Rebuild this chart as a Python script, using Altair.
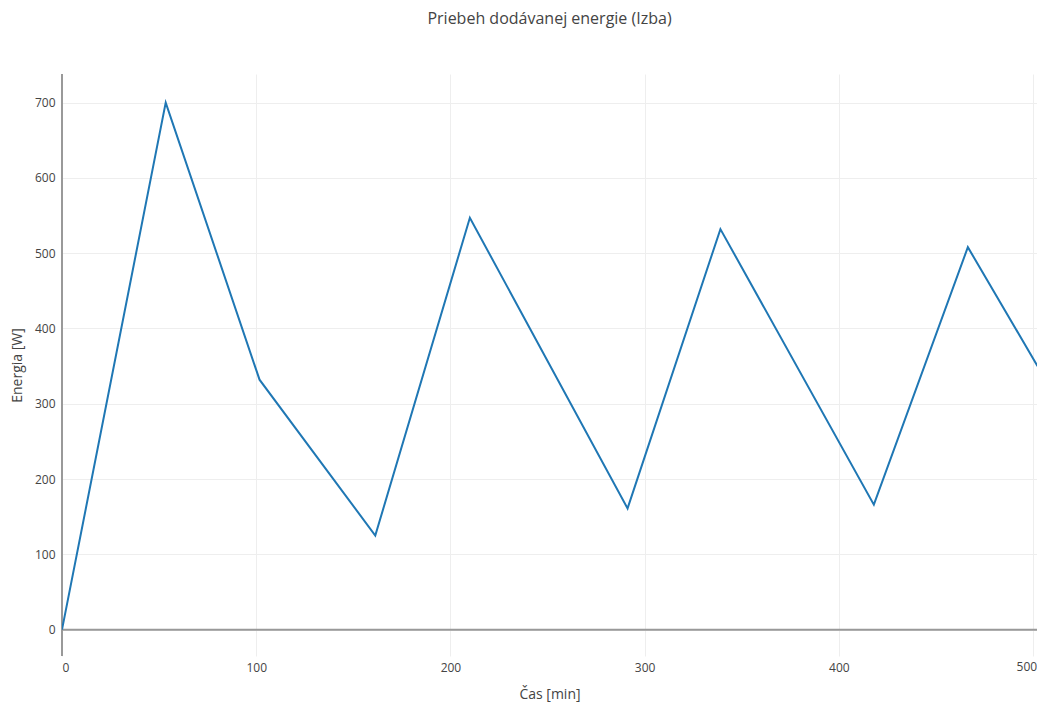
import altair as alt
import pandas as pd

cas = [0, 53.4, 101.7, 161.3, 210, 291.2, 339, 418, 466.4, 502.3]
energia = [0, 700, 332, 125, 547, 161, 532, 166, 508, 350]
x_ticks = [0, 100, 200, 300, 400, 500]
y_ticks = [0, 100, 200, 300, 400, 500, 600, 700]

df = pd.DataFrame({"cas": cas, "energia": energia})

FONT = "Open Sans"
TXT = "#444444"
H = 582

xscale = alt.Scale(domain=[0, 502], nice=False, zero=False)
yscale = alt.Scale(domain=[-35, 738], nice=False, zero=False)

line = alt.Chart(df).mark_line(color="#1f77b4", strokeWidth=2, clip=True).encode(
    x=alt.X("cas:Q", scale=xscale, title="Čas [min]",
            axis=alt.Axis(values=x_ticks, domain=False, ticks=False,
                          gridColor="#eeeeee", labelPadding=6, titlePadding=14,
                          labelExpr="datum.value >= 500 ? '' : datum.label",
                          labelFont=FONT, labelFontSize=12, labelColor=TXT,
                          titleFont=FONT, titleFontSize=14, titleColor=TXT, titleFontWeight="normal")),
    y=alt.Y("energia:Q", scale=yscale, title="Energia [W]",
            axis=alt.Axis(values=y_ticks, domain=False, ticks=False,
                          gridColor="#eeeeee", labelPadding=7, titlePadding=10,
                          labelFont=FONT, labelFontSize=12, labelColor=TXT,
                          titleFont=FONT, titleFontSize=14, titleColor=TXT, titleFontWeight="normal")),
)

last_lbl = alt.Chart(pd.DataFrame({"v": [x_ticks[-1]], "t": [str(x_ticks[-1])]})).mark_text(
    align="right", baseline="top", dx=4, font=FONT, fontSize=12, color=TXT, clip=False
).encode(x=alt.X("v:Q", scale=xscale), y=alt.value(H + 6), text="t:N")

zx = alt.Chart(pd.DataFrame({"v": [0]})).mark_rule(color="#999999", strokeWidth=2).encode(
    x=alt.X("v:Q", scale=xscale))
zy = alt.Chart(pd.DataFrame({"v": [0]})).mark_rule(color="#999999", strokeWidth=2).encode(
    y=alt.Y("v:Q", scale=yscale))

chart = alt.layer(zy, zx, line, last_lbl).properties(
    width=975, height=H,
    autosize=alt.AutoSizeParams(type="none"),
    padding={"left": 54, "top": 66, "right": 0, "bottom": 47},
    title=alt.TitleParams("Priebeh dodávanej energie (Izba)", font=FONT, fontSize=16,
                          color=TXT, fontWeight="normal", anchor="middle", offset=46),
).configure_view(stroke=None)

chart.save("out.html", embed_options={"renderer": "svg", "actions": False})
